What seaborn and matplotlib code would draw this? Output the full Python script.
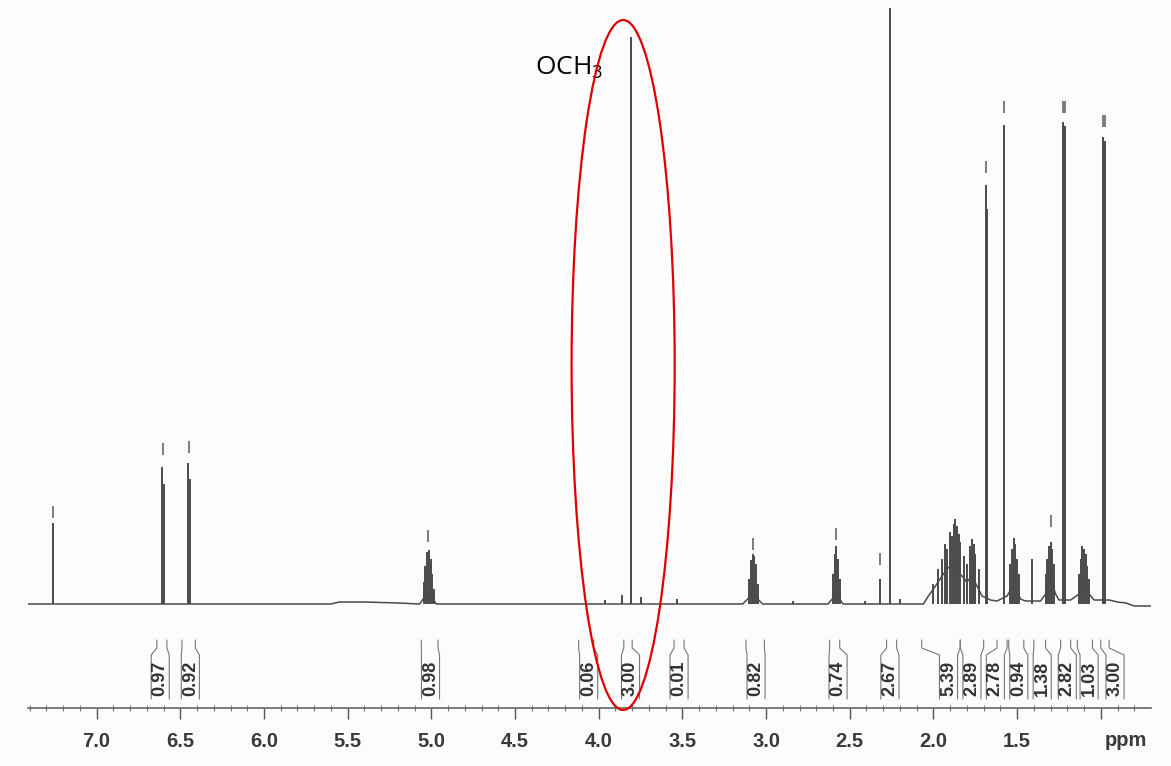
import numpy as np
import pandas as pd
import seaborn as sns
import matplotlib.pyplot as plt
from matplotlib.patches import Ellipse
from matplotlib.transforms import blended_transform_factory

# --- data ---
# sharp lines: shift (ppm) and height above baseline (px of the scan)
line_ppm = [7.26, 6.607, 6.597, 6.455, 6.445,
            5.045, 5.035, 5.025, 5.015, 5.005, 4.995, 4.985,
            3.96, 3.86, 3.81, 3.75, 3.53,
            3.10, 3.09, 3.08, 3.07, 3.06, 3.05, 2.84,
            2.60, 2.59, 2.58, 2.57, 2.56, 2.41, 2.32, 2.26, 2.20,
            2.00, 1.97, 1.95, 1.93, 1.92, 1.90, 1.89, 1.88, 1.87, 1.86,
            1.85, 1.84, 1.82, 1.80, 1.78, 1.77, 1.76, 1.75, 1.73,
            1.685, 1.678, 1.58,
            1.54, 1.53, 1.52, 1.51, 1.50, 1.49, 1.41,
            1.33, 1.32, 1.31, 1.30, 1.29, 1.28,
            1.228, 1.212,
            1.13, 1.12, 1.11, 1.10, 1.09, 1.08, 1.07,
            0.988, 0.972]
line_h = [81, 137, 120, 141, 125,
          22, 38, 52, 54, 45, 30, 15,
          4, 9, 567, 7, 5,
          25, 44, 50, 48, 40, 20, 3,
          30, 50, 58, 45, 25, 3, 25, 650, 5,
          20, 35, 45, 60, 55, 72, 68, 80, 85, 78,
          70, 62, 48, 40, 58, 65, 60, 50, 35,
          419, 395, 479,
          40, 55, 66, 60, 45, 30, 45,
          30, 45, 58, 62, 55, 40,
          482, 478,
          30, 45, 58, 55, 50, 38, 25,
          467, 463]

# broad envelope under the multiplets
env_ppm = [7.41, 5.60, 5.55, 5.40, 5.20, 5.07, 5.02, 4.97, 4.80, 3.14, 3.08, 3.02,
           2.63, 2.58, 2.54, 2.10, 2.06, 2.03, 2.00, 1.96, 1.92, 1.88, 1.84,
           1.80, 1.77, 1.74, 1.71, 1.66, 1.62, 1.56, 1.52, 1.48, 1.45, 1.36,
           1.33, 1.30, 1.27, 1.25, 1.18, 1.13, 1.10, 1.07, 1.04, 1.00, 0.95,
           0.90, 0.85, 0.80, 0.70]
env_h = [0, 0, 2, 2, 1, 0, 12, 0, 0, 0, 10, 0,
         0, 10, 0, 0, 0, 8, 15, 25, 35, 40, 30,
         22, 28, 18, 8, 4, 3, 8, 20, 5, 3, 3,
         10, 25, 10, 4, 4, 10, 22, 10, 4, 4, 4,
         2, 1, -2, -2]

# peak-pick marks
pick_ppm = [7.26, 6.605, 6.45, 5.02, 3.08, 2.585, 2.32, 1.685, 1.58,
            1.30, 1.228, 1.212, 0.988, 0.972]
pick_base = [86, 149, 151, 62, 54, 64, 39, 431, 491, 77, 491, 491, 477, 477]

# integrals: range (high, low ppm), label position, value
int_hi = [6.64, 6.49, 5.06, 4.12, 3.85, 3.55, 3.12, 2.62, 2.28,
          2.07, 1.84, 1.62, 1.55, 1.40, 1.24, 1.14, 1.00]
int_lo = [6.58, 6.41, 4.96, 4.03, 3.80, 3.49, 3.01, 2.56, 2.22,
          1.84, 1.70, 1.56, 1.46, 1.33, 1.18, 1.05, 0.95]
int_pos = [6.62, 6.44, 5.005, 4.06, 3.81, 3.52, 3.06, 2.57, 2.26,
           1.91, 1.77, 1.63, 1.49, 1.35, 1.20, 1.07, 0.915]
int_val = ["0.97", "0.92", "0.98", "0.06", "3.00", "0.01", "0.82", "0.74", "2.67",
           "5.39", "2.89", "2.78", "0.94", "1.38", "2.82", "1.03", "3.00"]

tick_vals = [7.0, 6.5, 6.0, 5.5, 5.0, 4.5, 4.0, 3.5, 3.0, 2.5, 2.0, 1.5, 1.0]
tick_labels = ["7.0", "6.5", "6.0", "5.5", "5.0", "4.5", "4.0", "3.5", "3.0",
               "2.5", "2.0", "1.5", ""]

highlight_ppm = 3.854
highlight_label = "OCH$_{\\mathregular{3}}$"

sns.set_theme(style="white")
plt.rcParams["font.family"] = ["Liberation Sans", "DejaVu Sans"]

fig = plt.figure(figsize=(11.71, 7.66), dpi=100, facecolor="#fcfcfc")
ax = fig.add_axes([28 / 1171, 58 / 766, 1123 / 1171, 700 / 766])
ax.set_facecolor("none")

ink = "#4a4a4a"

env = pd.DataFrame({"ppm": env_ppm, "h": env_h})
sns.lineplot(data=env, x="ppm", y="h", color=ink, linewidth=1.1, ax=ax)
ax.vlines(line_ppm, 0, line_h, color=ink, linewidth=1.4)

# peak-pick dashes
ax.vlines(pick_ppm, np.array(pick_base), np.array(pick_base) + 12,
          color="#666666", linewidth=1.2)

# integral brackets
bw = 0.108
for hi, lo, pos, val in zip(int_hi, int_lo, int_pos, int_val):
    ax.plot([hi, hi, pos + bw / 2, pos + bw / 2], [-36, -44, -51, -95],
            color="#777777", lw=0.8, clip_on=False)
    ax.plot([lo, lo, pos - bw / 2, pos - bw / 2], [-36, -44, -51, -95],
            color="#777777", lw=0.8, clip_on=False)
    ax.text(pos, -74, val, rotation=90, ha="center", va="center",
            fontsize=13, fontweight="bold", color="#333333")

# red highlight around the methoxy singlet
ax.add_patch(Ellipse((highlight_ppm, 239), 0.616, 690, fill=False,
                     edgecolor="#e00000", linewidth=1.6, clip_on=False, zorder=5))
ax.text(4.38, 536, highlight_label, fontsize=19, color="black",
        ha="left", va="center", family=["Open Sans", "DejaVu Sans"])

ax.set_xlim(7.41, 0.70)
ax.set_ylim(-104, 596)
ax.set_xticks(tick_vals)
ax.set_xticklabels(tick_labels, fontsize=14.5, fontweight="bold", color="#3a3a3a")
ax.set_xticks(np.arange(0.8, 7.45, 0.1), minor=True)
ax.tick_params(axis="x", which="major", direction="out", length=8, width=1,
               color="#555555", pad=9, bottom=True)
ax.tick_params(axis="x", which="minor", direction="inout", length=4, width=0.8,
               color="#777777", bottom=True)
ax.set_yticks([])
ax.set_xlabel("")
ax.set_ylabel("")
for side in ["top", "left", "right"]:
    ax.spines[side].set_visible(False)
ax.spines["bottom"].set_color("#666666")
ax.spines["bottom"].set_linewidth(1.2)

tr = blended_transform_factory(ax.transData, ax.transAxes)
ax.text(0.85, -32 / 700, "ppm", transform=tr, ha="center", va="center",
        fontsize=14.5, fontweight="bold", color="#3a3a3a")

fig.savefig("out.png", dpi=100, facecolor=fig.get_facecolor())
